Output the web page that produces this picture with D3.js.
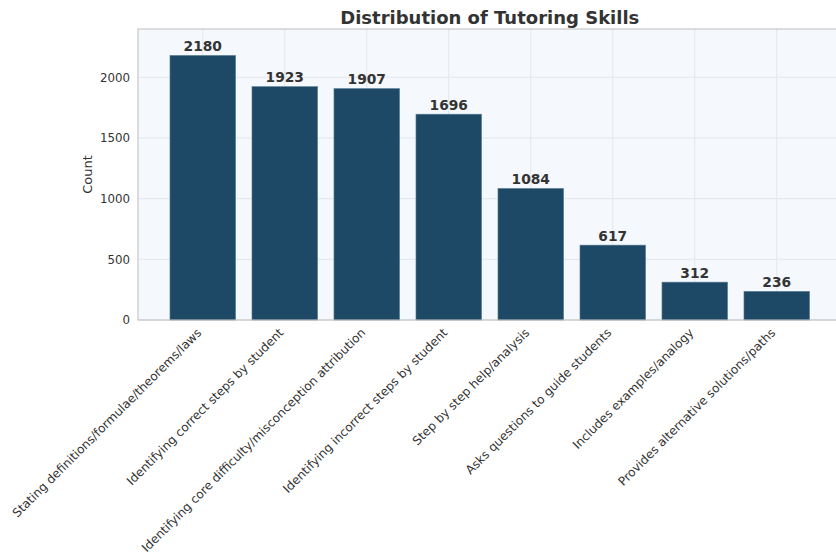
<!DOCTYPE html>
<html>
<head>
    <title>Distribution of Tutoring Skills</title>
    <script src="https://cdn.jsdelivr.net/npm/d3@7" type="text/javascript"></script>
    <style type="text/css">
        body { margin: 0; background: #fff; }
        text { font-family: "DejaVu Sans", sans-serif; fill: #333; }
    </style>
</head>
<body>
<div id="chart"></div>
<script type="text/javascript">
    var skills = [
        "Stating definitions/formulae/theorems/laws",
        "Identifying correct steps by student",
        "Identifying core difficulty/misconception attribution",
        "Identifying incorrect steps by student",
        "Step by step help/analysis",
        "Asks questions to guide students",
        "Includes examples/analogy",
        "Provides alternative solutions/paths"
    ];
    var counts = [2180, 1923, 1907, 1696, 1084, 617, 312, 236];
    var yTicks = [0, 500, 1000, 1500, 2000];

    var W = 836, H = 556;
    var plotLeft = 138, plotTop = 29, plotBottom = 320;
    var band = 82; // px per category
    var plotRight = plotLeft + band * 8.58; // plot runs past the image edge

    var svg = d3.select('#chart').append('svg')
        .attr('width', W)
        .attr('height', H);

    // x: bar index -> centre, matplotlib-like margins
    var x = d3.scaleLinear().domain([-0.79, 7.79]).range([plotLeft, plotRight]);
    var y = d3.scaleLinear().domain([0, d3.max(counts) * 1.1]).range([plotBottom, plotTop]);

    svg.append('rect')
        .attr('x', plotLeft).attr('y', plotTop)
        .attr('width', plotRight - plotLeft).attr('height', plotBottom - plotTop)
        .attr('fill', '#f5f9fd');

    // grid
    svg.append('g').selectAll('line').data(yTicks).enter().append('line')
        .attr('x1', plotLeft).attr('x2', plotRight)
        .attr('y1', function(d) { return y(d); }).attr('y2', function(d) { return y(d); })
        .attr('stroke', '#e3e6ea').attr('stroke-width', 1);
    svg.append('g').selectAll('line').data(skills).enter().append('line')
        .attr('x1', function(d, i) { return x(i); }).attr('x2', function(d, i) { return x(i); })
        .attr('y1', plotTop).attr('y2', plotBottom)
        .attr('stroke', '#e3e6ea').attr('stroke-width', 1);

    // bars
    svg.append('g').selectAll('rect').data(counts).enter().append('rect')
        .attr('x', function(d, i) { return x(i - 0.4); })
        .attr('width', x(0.4) - x(-0.4))
        .attr('y', function(d) { return y(d); })
        .attr('height', function(d) { return plotBottom - y(d); })
        .attr('fill', '#1e4966')
        .attr('stroke', '#5a7d95').attr('stroke-width', 0.6);

    // value labels
    svg.append('g').selectAll('text').data(counts).enter().append('text')
        .attr('x', function(d, i) { return x(i); })
        .attr('y', function(d) { return y(d) - 4.5; })
        .attr('text-anchor', 'middle')
        .style('font-size', '13.8px').style('font-weight', 'bold')
        .text(function(d) { return d; });

    // frame
    svg.append('rect')
        .attr('x', plotLeft).attr('y', plotTop)
        .attr('width', plotRight - plotLeft).attr('height', plotBottom - plotTop)
        .attr('fill', 'none').attr('stroke', '#bdbdbd').attr('stroke-width', 1);

    // y axis labels
    var yAxis = d3.axisLeft(y).tickValues(yTicks).tickSize(0).tickPadding(8).tickFormat(d3.format('d'));
    var gy = svg.append('g').attr('transform', 'translate(' + plotLeft + ',0)').call(yAxis);
    gy.select('.domain').remove();
    gy.selectAll('text').style('font-size', '11.8px').style('font-family', '"DejaVu Sans", sans-serif').attr('fill', '#333');

    // x labels, rotated 45
    svg.append('g').selectAll('text').data(skills).enter().append('text')
        .attr('transform', function(d, i) { return 'translate(' + (x(i) - 7) + ',' + (plotBottom + 7) + ') rotate(-45)'; })
        .attr('text-anchor', 'end')
        .attr('dy', '0.75em')
        .style('font-size', '12.1px')
        .text(function(d) { return d; });

    svg.append('text')
        .attr('transform', 'translate(92,' + ((plotTop + plotBottom) / 2) + ') rotate(-90)')
        .attr('text-anchor', 'middle')
        .style('font-size', '13px')
        .text('Count');

    svg.append('text')
        .attr('x', (plotLeft + plotRight) / 2).attr('y', 24)
        .attr('text-anchor', 'middle')
        .style('font-size', '18px').style('font-weight', 'bold')
        .text('Distribution of Tutoring Skills');
</script>
</body>
</html>
